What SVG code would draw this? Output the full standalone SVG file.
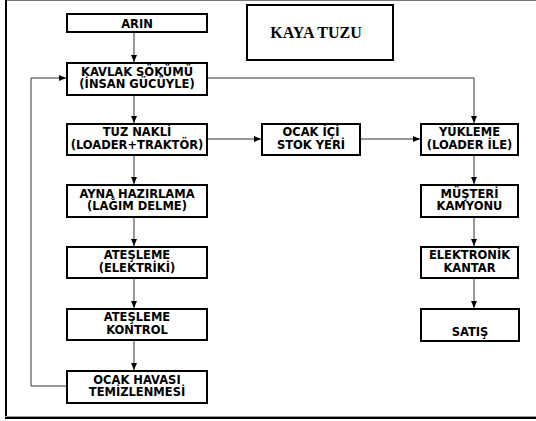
<svg xmlns="http://www.w3.org/2000/svg" width="536" height="421" viewBox="0 0 536 421">
<defs>
<style>
.box{fill:#fff;stroke:#000;stroke-width:2}
.t{font-family:"DejaVu Sans","Liberation Sans",sans-serif;font-weight:bold;font-size:11.5px;text-anchor:middle;fill:#000}
.title{font-family:"Liberation Serif","Times New Roman",serif;font-weight:bold;font-size:16px;text-anchor:middle;fill:#000}
.c{fill:none;stroke:#333;stroke-width:1}
</style>
<marker id="ah" viewBox="0 0 7 6" refX="7" refY="3" markerWidth="7" markerHeight="6" markerUnits="userSpaceOnUse" orient="auto">
<path d="M0,0 L7,3 L0,6 Z" fill="#000"/>
</marker>
</defs>
<rect width="536" height="421" fill="#fff"/>
<g id="frame">
<line x1="5" y1="0.5" x2="536" y2="0.5" stroke="#777" stroke-width="1"/>
<line x1="6" y1="0" x2="6" y2="419" stroke="#000" stroke-width="2"/>
<line x1="5" y1="416.5" x2="536" y2="416.5" stroke="#999" stroke-width="1"/>
<line x1="5" y1="418" x2="536" y2="418" stroke="#000" stroke-width="2"/>
</g>
<g id="connectors">
<line class="c" x1="134" y1="32" x2="134" y2="62" marker-end="url(#ah)"/>
<line class="c" x1="134" y1="95" x2="134" y2="123" marker-end="url(#ah)"/>
<line class="c" x1="134" y1="155" x2="134" y2="184" marker-end="url(#ah)"/>
<line class="c" x1="134" y1="217" x2="134" y2="246" marker-end="url(#ah)"/>
<line class="c" x1="134" y1="278" x2="134" y2="308" marker-end="url(#ah)"/>
<line class="c" x1="134" y1="340" x2="134" y2="370" marker-end="url(#ah)"/>
<polyline class="c" points="67,386 31,386 31,78 66,78" marker-end="url(#ah)"/>
<polyline class="c" points="207,78 474,78 474,123" marker-end="url(#ah)"/>
<line class="c" x1="207" y1="139" x2="261" y2="139" marker-end="url(#ah)"/>
<line class="c" x1="360" y1="139" x2="420" y2="139" marker-end="url(#ah)"/>
<line class="c" x1="474" y1="155" x2="474" y2="184" marker-end="url(#ah)"/>
<line class="c" x1="474" y1="217" x2="474" y2="246" marker-end="url(#ah)"/>
<line class="c" x1="474" y1="278" x2="474" y2="308" marker-end="url(#ah)"/>
</g>
<g id="kaya-tuzu"><rect class="box" x="247" y="5" width="146" height="55"/><text class="title" x="316" y="38">KAYA TUZU</text></g>
<g id="arin"><rect class="box" x="67" y="14" width="140" height="18"/><text class="t" x="137" y="27.5">ARIN</text></g>
<g id="kavlak"><rect class="box" x="67" y="63" width="140" height="32"/><text class="t" x="137" y="75.5">KAVLAK SÖKÜMÜ</text><text class="t" x="137" y="88">(İNSAN GÜCÜYLE)</text></g>
<g id="tuz-nakli"><rect class="box" x="67" y="124" width="140" height="31"/><text class="t" x="137" y="136">TUZ NAKLİ</text><text class="t" x="137" y="149">(LOADER+TRAKTÖR)</text></g>
<g id="ayna"><rect class="box" x="67" y="185" width="140" height="32"/><text class="t" x="137" y="197.5">AYNA HAZIRLAMA</text><text class="t" x="137" y="210">(LAĞIM DELME)</text></g>
<g id="atesleme"><rect class="box" x="67" y="247" width="140" height="31"/><text class="t" x="137" y="259">ATEŞLEME</text><text class="t" x="137" y="272">(ELEKTRİKİ)</text></g>
<g id="atesleme-kontrol"><rect class="box" x="67" y="309" width="140" height="31"/><text class="t" x="137" y="321">ATEŞLEME</text><text class="t" x="137" y="334">KONTROL</text></g>
<g id="ocak-havasi"><rect class="box" x="67" y="371" width="140" height="32"/><text class="t" x="137" y="383.5">OCAK HAVASI</text><text class="t" x="137" y="396">TEMİZLENMESİ</text></g>
<g id="stok"><rect class="box" x="262" y="124" width="98" height="31"/><text class="t" x="311" y="136">OCAK İÇİ</text><text class="t" x="311" y="149">STOK YERİ</text></g>
<g id="yukleme"><rect class="box" x="421" y="124" width="97" height="31"/><text class="t" x="469.5" y="136">YÜKLEME</text><text class="t" x="469.5" y="149">(LOADER İLE)</text></g>
<g id="musteri"><rect class="box" x="421" y="185" width="97" height="32"/><text class="t" x="469.5" y="197.5">MÜŞTERİ</text><text class="t" x="469.5" y="210">KAMYONU</text></g>
<g id="kantar"><rect class="box" x="421" y="247" width="97" height="31"/><text class="t" x="469.5" y="259">ELEKTRONİK</text><text class="t" x="469.5" y="272">KANTAR</text></g>
<g id="satis"><rect class="box" x="421" y="309" width="98" height="32"/><text class="t" x="470" y="336">SATIŞ</text></g>
</svg>
